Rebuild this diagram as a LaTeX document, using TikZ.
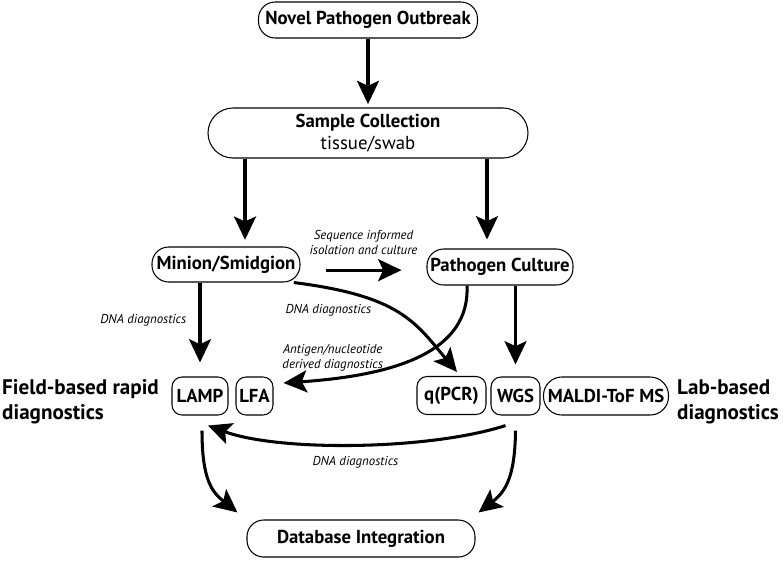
\documentclass[tikz,border=0pt]{standalone}
\usepackage{fontspec}
\setmainfont{PT Sans}
\usetikzlibrary{arrows.meta}
\tikzset{box/.style = {draw, line width=0.9pt, inner sep=0pt, rounded corners=5mm,
                       font=\bfseries\fontsize{16}{18}\selectfont},
         tag/.style = {box, rounded corners=3mm, minimum height=11.4mm},
         flow/.style = {line width=2.6pt, -{Stealth[length=7mm, width=6.6mm, inset=1.5mm]}},
         lbl/.style = {font=\itshape\fontsize{11}{13}\selectfont, align=center},
         side/.style = {inner sep=0pt, anchor=west, align=left,
                        font=\bfseries\fontsize{18}{21.5}\selectfont}}

\begin{document}
\begin{tikzpicture}[x=0.3mm, y=-0.3mm]
    \useasboundingbox (0, 0) rectangle (783, 561);

    \node [box, minimum width=65.7mm, minimum height=10.8mm] (novel) at (368, 20) {Novel Pathogen Outbreak};
    \node [box, rounded corners=7.5mm, minimum width=96mm, minimum height=15mm, align=center] (sample) at (368, 133)
      {Sample Collection\\[1pt]{\mdseries tissue/swab}};
    \node [box, minimum width=44.4mm, minimum height=10.5mm] (minion) at (226, 264.5) {Minion/Smidgion};
    \node [box, minimum width=43.8mm, minimum height=10.8mm] (culture) at (500, 267) {Pathogen Culture};

    \node [tag, minimum width=16.8mm] (lamp) at (200, 396) {LAMP};
    \node [tag, minimum width=11.1mm] (lfa) at (254.5, 396) {LFA};
    \node [tag, minimum width=20.7mm] (pcr) at (451.5, 395.5) {q(PCR)};
    \node [tag, minimum width=14.7mm] (wgs) at (515.5, 396) {WGS};
    \node [tag, rounded corners=5.5mm, minimum width=37.5mm] (maldi) at (606, 396) {MALDI-ToF MS};
    \node [side] (field) at (2, 402) {Field-based rapid\\diagnostics};
    \node [side] (lab) at (677, 402) {Lab-based\\diagnostics};

    \node [box, minimum width=68.4mm, minimum height=11.1mm] (dbase) at (361, 538.5) {Database Integration};

    \draw [flow, shorten >=1mm] (novel) -- (sample);
    \draw [flow, shorten >=2mm] ([xshift=-36.9mm]sample.south) -- ([xshift=-36.9mm]sample.south |- minion.north);
    \draw [flow, shorten >=2.7mm] ([xshift=35.7mm]sample.south) -- ([xshift=35.7mm]sample.south |- culture.north);
    \draw [flow, shorten <=7.5mm, shorten >=7.5mm] ([yshift=-1.7mm]minion.east) -- ([yshift=-1.7mm]minion.east -| culture.west)
      node [lbl, midway, above=3mm] {Sequence informed\\isolation and culture};

    \draw [flow, shorten >=4.2mm] (minion.south -| lamp.north) -- (lamp.north)
      node [lbl, pos=0.4, left=2.5mm] {DNA diagnostics};
    \draw [flow] ([xshift=-2mm]minion.south east) .. controls (400, 296) and (415, 322) .. ([shift={(5.5, -4)}]pcr.north)
      node [lbl, pos=0.4, left=2.5mm, yshift=-1.5mm] {DNA diagnostics};
    \draw [flow] ([xshift=-9.9mm]culture.south) .. controls (470, 350) and (400, 375) .. ([shift={(10, -13)}]lfa.east)
      node [lbl, pos=0.85, above=0.5mm] {Antigen/nucleotide\\derived diagnostics};
    \draw [flow, shorten >=3.6mm] (culture.south -| wgs.north) -- (wgs.north);

    \draw [flow] ([shift={(-10, 10)}]wgs.south) .. controls (430, 450) and (280, 452) .. ([shift={(8, 10)}]lamp.south)
      node [lbl, midway, below=2mm] {DNA diagnostics};
    \draw [flow] ([shift={(2, 15)}]lamp.south) .. controls (202, 480) and (212, 492) .. ([shift={(-9, -7)}]dbase.north west);
    \draw [flow] ([shift={(0, 15)}]wgs.south) .. controls (515, 478) and (505, 492) .. ([shift={(3, -7)}]dbase.north east);
\end{tikzpicture}
\end{document}
